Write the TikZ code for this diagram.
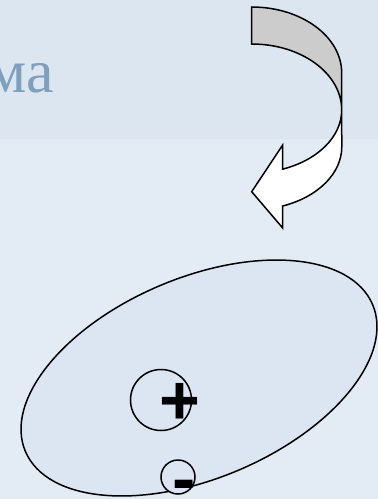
\documentclass[tikz,border=0pt]{standalone}
\usepackage{fontspec}
\setmainfont{Liberation Serif}
\newfontfamily\signfont{Liberation Sans}
\usepackage{tikz}
\usetikzlibrary{
  calc,
  positioning,
  shapes
}
\definecolor{topband}{RGB}{220,230,241}
\definecolor{lowband}{RGB}{227,235,245}
\definecolor{orbitfill}{RGB}{220,230,242}
\definecolor{titleblue}{RGB}{127,160,189}
\definecolor{backgray}{RGB}{204,204,204}

\begin{document}
\begin{tikzpicture}[x=1pt,y=-1pt,
                    outline/.style={draw=black,line width=1.5pt},
                    sign/.style={inner sep=0,anchor=base,font=\signfont\bfseries\fontsize{70}{70}\selectfont}]
                  \useasboundingbox (0,0) rectangle (378,499);
                  \fill[topband] (0,0) rectangle (378,139);
                  \fill[lowband] (0,139) rectangle (378,499);

                  \node[inner sep=0,anchor=base east,text=titleblue,font=\fontsize{62}{62}\selectfont] (title) at (54,92) {ма};

                  \draw[outline,fill=backgray] (251.7,44) -- (251.7,7)
                    arc[start angle=-90,end angle=0,x radius=90,y radius=66] -- (341.7,110)
                    arc[start angle=0,end angle=-90,x radius=90,y radius=66] -- cycle;
                  \draw[outline,fill=white] (341.7,110)
                    arc[start angle=0,end angle=69.9,x radius=90,y radius=63]
                    -- (282.7,145) -- (251.7,191.7) -- (282.7,228) -- (282.7,206)
                    arc[start angle=69.9,end angle=0,x radius=90,y radius=63] -- cycle;

                  \node[ellipse,outline,fill=orbitfill,minimum width=377,minimum height=200.6,rotate=22.9] (orbit) at (199,378) {};
                  \node[circle,outline,minimum size=61,inner sep=0] (nucleus) at (161,400) {};
                  \node[circle,outline,fill=orbitfill,minimum size=34,inner sep=0] (electron) at (178,477) {};
                  \node[sign] (plus) at (179.5,424.5) {+};
                  \node[sign] (minus) at (184.5,502) {-};
                \end{tikzpicture}
\end{document}
